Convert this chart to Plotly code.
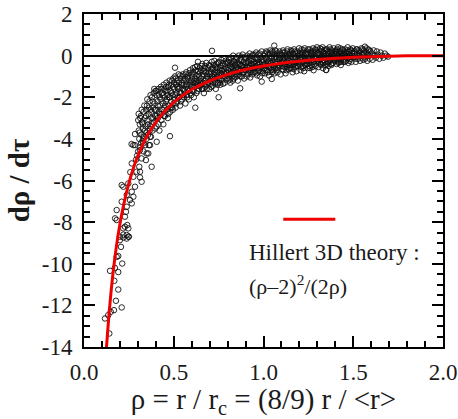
import plotly.graph_objects as go

obs_steep = [
    (0.141, -13.35), (0.117, -12.63), (0.135, -12.47), (0.149, -12.31), (0.167, -12.23),
    (0.210, -12.10), (0.178, -11.78), (0.191, -11.24), (0.169, -10.82), (0.145, -10.34),
    (0.172, -10.20), (0.191, -10.40), (0.213, -9.99), (0.182, -9.67), (0.191, -9.63),
    (0.206, -9.19), (0.200, -8.70), (0.219, -8.74), (0.238, -8.79), (0.250, -8.70),
    (0.247, -8.70), (0.219, -8.60), (0.200, -8.87), (0.228, -8.22), (0.247, -8.30),
    (0.238, -8.62), (0.219, -8.30), (0.241, -8.14), (0.182, -7.90), (0.173, -7.82),
    (0.228, -7.74), (0.182, -7.42), (0.234, -7.50), (0.238, -7.26), (0.266, -7.10),
    (0.210, -7.02), (0.256, -6.94), (0.275, -6.78), (0.238, -6.70), (0.266, -6.54),
    (0.219, -6.30), (0.284, -6.30), (0.210, -6.22), (0.247, -6.14), (0.321, -6.06),
    (0.275, -5.82), (0.312, -5.85), (0.293, -5.58), (0.312, -5.58), (0.308, -5.34),
    (0.377, -5.34), (0.266, -5.18), (0.345, -5.02), (0.321, -4.94), (0.349, -4.70),
    (0.358, -4.70), (0.312, -4.54), (0.330, -4.22), (0.284, -4.30), (0.275, -4.30),
    (0.368, -4.30), (0.284, -3.77), (0.330, -3.98), (0.368, -3.90), (0.405, -4.14),
    (0.479, -3.87), (0.265, -4.25), (0.296, -4.80), (0.258, -5.60), (0.290, -5.00),
]

obs_band_low = [
    (0.302, -3.1), (0.305, -3.6), (0.308, -4.0), (0.311, -3.3), (0.314, -4.4), (0.317, -2.9),
    (0.320, -3.8), (0.323, -3.2), (0.326, -4.1), (0.329, -3.5), (0.332, -2.7), (0.335, -3.9),
    (0.338, -3.0), (0.341, -4.3), (0.344, -3.4), (0.347, -2.6), (0.349, -3.7),
    (0.351, -2.4), (0.354, -3.1), (0.357, -3.8), (0.360, -2.8), (0.362, -4.3), (0.365, -2.2),
    (0.368, -3.4), (0.371, -2.6), (0.373, -3.9), (0.376, -3.0), (0.379, -2.0), (0.382, -3.6),
    (0.385, -2.5), (0.388, -1.8), (0.390, -3.2), (0.393, -2.3), (0.396, -2.9), (0.398, -1.7),
    (0.401, -2.6), (0.404, -3.4), (0.406, -1.9), (0.409, -2.2), (0.412, -3.0), (0.414, -1.6),
    (0.417, -2.7), (0.420, -3.6), (0.422, -2.0), (0.425, -2.4), (0.428, -1.5), (0.431, -3.1),
    (0.433, -2.8), (0.436, -1.8), (0.439, -2.3), (0.442, -3.3), (0.444, -1.4), (0.447, -2.5),
    (0.449, -2.0),
    (0.451, -2.9), (0.453, -1.7), (0.456, -2.2), (0.459, -1.3), (0.461, -2.6), (0.464, -1.9),
    (0.467, -3.0), (0.469, -1.5), (0.472, -2.4), (0.475, -2.0), (0.477, -1.2), (0.480, -2.7),
    (0.483, -1.7), (0.486, -2.2), (0.488, -1.4), (0.491, -2.5), (0.494, -1.9), (0.497, -1.1),
    (0.499, -2.3),
    (0.502, -1.6), (0.505, -2.1), (0.507, -1.0), (0.510, -2.5), (0.513, -1.4), (0.516, -1.8),
    (0.518, -2.2), (0.521, -1.2), (0.524, -1.6), (0.527, -0.9), (0.530, -2.0), (0.532, -1.5),
    (0.535, -2.4), (0.538, -1.1), (0.541, -1.8), (0.543, -1.3), (0.546, -2.1), (0.549, -1.6),
    (0.551, -0.9), (0.554, -1.4), (0.557, -2.0), (0.559, -1.7), (0.562, -1.1), (0.565, -2.3),
    (0.568, -1.5), (0.570, -0.8), (0.573, -1.9), (0.576, -1.2), (0.579, -1.6), (0.581, -1.0),
    (0.584, -2.1), (0.587, -1.4), (0.590, -0.7), (0.592, -1.8), (0.595, -1.2), (0.598, -1.5),
]

obs_band_mid = [
    (0.601, -1.0), (0.604, -1.7), (0.607, -0.6), (0.609, -1.3), (0.612, -2.0), (0.615, -0.9),
    (0.618, -1.5), (0.620, -1.1), (0.623, -0.7), (0.626, -1.8), (0.629, -1.2), (0.631, -0.5),
    (0.634, -1.4), (0.637, -0.9), (0.640, -1.6), (0.642, -1.0), (0.645, -0.6), (0.648, -1.3),
    (0.651, -1.1), (0.654, -0.7), (0.657, -1.6), (0.659, -0.4), (0.662, -1.3), (0.665, -0.9),
    (0.668, -1.8), (0.670, -0.6), (0.673, -1.2), (0.676, -1.5), (0.679, -0.8), (0.681, -0.35),
    (0.684, -1.0), (0.687, -1.4), (0.690, -0.6), (0.692, -1.1), (0.695, -0.8), (0.698, -1.6),
    (0.701, -0.5), (0.704, -1.2), (0.707, -0.8), (0.709, -1.5), (0.712, -0.3), (0.715, -1.0),
    (0.718, -0.6), (0.720, -1.3), (0.723, -0.9), (0.726, -0.25), (0.729, -1.1), (0.731, -0.7),
    (0.734, -1.6), (0.737, -0.4), (0.740, -1.0), (0.742, -0.6), (0.745, -1.3), (0.748, -0.8),
    (0.751, -0.3), (0.754, -1.1), (0.757, -0.6), (0.759, -1.4), (0.762, -0.9), (0.765, -0.2),
    (0.768, -0.7), (0.770, -1.2), (0.773, -0.5), (0.776, -1.0), (0.779, -0.15), (0.781, -0.8),
    (0.784, -1.3), (0.787, -0.4), (0.790, -0.9), (0.792, -0.6), (0.795, -1.1), (0.798, -0.3),
    (0.801, -0.7), (0.804, -1.2), (0.807, -0.2), (0.809, -0.9), (0.812, -0.5), (0.815, -1.3),
    (0.818, -0.1), (0.820, -0.8), (0.823, -0.4), (0.826, -1.0), (0.829, -0.6), (0.831, 0.0),
    (0.834, -1.1), (0.837, -0.3), (0.840, -0.7), (0.842, -0.9), (0.845, -0.45), (0.848, -0.15),
    (0.851, -0.8), (0.854, -0.3), (0.857, -1.2), (0.859, -0.6), (0.862, 0.0), (0.865, -0.9),
    (0.868, -0.4), (0.870, -1.57), (0.873, -0.7), (0.876, -0.2), (0.879, -1.0), (0.881, -0.5),
    (0.884, 0.05), (0.887, -0.8), (0.890, -0.3), (0.892, -1.1), (0.895, -0.55), (0.898, -0.1),
    (0.901, -0.7), (0.904, -0.35), (0.907, -1.0), (0.909, 0.0), (0.912, -0.5), (0.915, -0.85),
    (0.918, -0.2), (0.920, -0.6), (0.923, 0.1), (0.926, -1.05), (0.929, -0.4), (0.931, -0.7),
    (0.934, -0.15), (0.937, -0.9), (0.940, -0.45), (0.942, 0.05), (0.945, -0.6), (0.948, -0.3),
    (0.951, -0.8), (0.954, -0.1), (0.957, -0.5), (0.959, 0.15), (0.962, -0.35), (0.965, -0.95),
    (0.968, -0.6), (0.970, -0.2), (0.973, 0.05), (0.976, -0.7), (0.979, -0.4), (0.981, -1.0),
    (0.984, -0.1), (0.987, -0.55), (0.990, 0.2), (0.992, -0.3), (0.995, -0.75), (0.998, -0.45),
]

obs_band_high = [
    (1.001, -0.2), (1.004, -0.6), (1.007, 0.1), (1.009, -0.85), (1.012, -0.4), (1.015, 0.2),
    (1.018, -0.1), (1.020, -0.7), (1.023, -0.3), (1.026, 0.05), (1.029, -0.5), (1.031, -0.95),
    (1.034, -0.15), (1.037, 0.25), (1.040, -0.6), (1.042, -0.35), (1.045, -0.05), (1.048, -0.8),
    (1.051, -0.25), (1.054, 0.15), (1.057, -0.55), (1.059, -0.1), (1.062, -0.85), (1.065, 0.25),
    (1.068, -0.4), (1.070, -0.05), (1.073, -0.7), (1.076, 0.1), (1.079, -0.3), (1.081, -0.6),
    (1.084, 0.0), (1.087, -0.45), (1.090, 0.2), (1.092, -0.15), (1.095, -0.9), (1.098, -0.35),
    (1.101, 0.05), (1.104, -0.5), (1.107, -0.2), (1.109, 0.25), (1.112, -0.7), (1.115, -0.1),
    (1.118, -0.4), (1.120, 0.15), (1.123, -0.85), (1.126, -0.3), (1.129, 0.0), (1.131, -0.55),
    (1.134, 0.3), (1.137, -0.15), (1.140, -0.65), (1.142, -0.25), (1.145, 0.1), (1.148, -0.45),
    (1.151, -0.05), (1.154, -0.6), (1.157, 0.2), (1.159, -0.3), (1.162, -0.8), (1.165, 0.05),
    (1.168, -0.45), (1.170, 0.3), (1.173, -0.15), (1.176, -0.55), (1.179, 0.1), (1.181, -0.35),
    (1.184, -0.75), (1.187, 0.2), (1.190, -0.2), (1.192, -0.5), (1.195, 0.0), (1.198, 0.35),
    (1.201, -0.4), (1.204, 0.1), (1.207, -0.7), (1.209, -0.2), (1.212, 0.3), (1.215, -0.05),
    (1.218, -0.5), (1.220, 0.15), (1.223, -0.3), (1.226, -0.75), (1.229, 0.35), (1.231, -0.1),
    (1.234, -0.45), (1.237, 0.05), (1.240, -0.25), (1.242, 0.2), (1.245, -0.6), (1.248, -0.15),
    (1.251, 0.1), (1.254, -0.35), (1.257, 0.3), (1.259, -0.6), (1.262, -0.1), (1.265, 0.2),
    (1.268, -0.45), (1.270, 0.0), (1.273, -0.2), (1.276, 0.35), (1.279, -0.7), (1.281, -0.3),
    (1.284, 0.1), (1.287, -0.05), (1.290, -0.5), (1.292, 0.25), (1.295, -0.15), (1.298, 0.4),
    (1.301, -0.25), (1.304, 0.15), (1.307, -0.55), (1.309, 0.05), (1.312, -0.1), (1.315, 0.35),
    (1.318, -0.4), (1.320, -0.05), (1.323, 0.2), (1.326, -0.3), (1.329, 0.4), (1.331, -0.6),
    (1.334, 0.0), (1.337, -0.2), (1.340, 0.25), (1.342, -0.45), (1.345, 0.1), (1.348, -0.69),
    (1.351, 0.0), (1.354, 0.3), (1.357, -0.3), (1.359, 0.1), (1.362, -0.5), (1.365, -0.1),
    (1.368, 0.4), (1.370, -0.2), (1.373, 0.15), (1.376, -0.4), (1.379, 0.05), (1.381, 0.25),
    (1.384, -0.15), (1.387, -0.35), (1.390, 0.35), (1.392, 0.0), (1.395, -0.25), (1.398, 0.2),
    (1.401, -0.1), (1.404, 0.25), (1.407, -0.4), (1.409, 0.1), (1.412, -0.2), (1.415, 0.4),
    (1.418, 0.0), (1.420, -0.3), (1.423, 0.2), (1.426, -0.05), (1.429, 0.35), (1.431, -0.45),
    (1.434, 0.1), (1.437, -0.15), (1.440, 0.3), (1.442, 0.0), (1.445, -0.3), (1.448, 0.15),
    (1.451, 0.0), (1.455, 0.3), (1.459, -0.25), (1.462, 0.1), (1.466, -0.1), (1.469, 0.4),
    (1.473, -0.35), (1.476, 0.2), (1.480, 0.0), (1.483, -0.15), (1.487, 0.25), (1.490, -0.3),
    (1.494, 0.1), (1.497, 0.35),
    (1.502, -0.1), (1.506, 0.2), (1.510, 0.0), (1.514, -0.3), (1.518, 0.3), (1.522, 0.1),
    (1.526, -0.15), (1.530, 0.25), (1.534, 0.0), (1.538, -0.25), (1.542, 0.15), (1.546, 0.35),
    (1.552, 0.05), (1.556, -0.2), (1.560, 0.25), (1.565, 0.43), (1.569, -0.05), (1.574, 0.15),
    (1.578, -0.25), (1.583, 0.3), (1.587, 0.0), (1.592, -0.15), (1.596, 0.2),
    (1.603, 0.1), (1.608, -0.2), (1.614, 0.25), (1.620, 0.0), (1.626, -0.1), (1.632, 0.2),
    (1.638, 0.05), (1.645, -0.15), (1.652, 0.15), (1.660, 0.0), (1.668, -0.1), (1.676, 0.1),
    (1.685, 0.0), (1.694, -0.05),
]

obs_band_extra = [
    (0.3015, -4.6), (0.3045, -2.8), (0.3095, -3.7), (0.3135, -3.0), (0.3185, -4.2), (0.3215, -2.6),
    (0.3275, -3.3), (0.3305, -4.6), (0.3365, -2.4), (0.3395, -3.6), (0.3455, -2.9), (0.3485, -4.0),
    (0.3525, -2.1), (0.3565, -3.3), (0.3615, -2.5), (0.3665, -3.6), (0.3705, -1.9), (0.3745, -2.7),
    (0.3785, -3.3), (0.3835, -2.2), (0.3865, -3.0), (0.3915, -1.6), (0.3945, -2.6), (0.3975, -3.5),
    (0.4025, -1.7), (0.4055, -2.9), (0.4105, -2.4), (0.4155, -3.3), (0.4185, -1.9), (0.4235, -2.8),
    (0.4265, -2.1), (0.4325, -1.6), (0.4355, -2.6), (0.4405, -1.9), (0.4455, -2.9), (0.4485, -1.6),
    (0.4525, -2.4), (0.4575, -1.5), (0.4625, -2.1), (0.4655, -1.7), (0.4705, -2.8), (0.4735, -1.4),
    (0.4785, -2.0), (0.4815, -2.5), (0.4875, -1.8), (0.4905, -1.2), (0.4955, -2.6), (0.4985, -1.5),
    (0.5035, -1.3), (0.5085, -1.9), (0.5115, -1.1), (0.5145, -2.3), (0.5195, -1.5), (0.5225, -2.0),
    (0.5285, -1.3), (0.5335, -1.8), (0.5365, -0.95), (0.5395, -2.2), (0.5445, -1.4), (0.5475, -1.0),
    (0.5525, -1.9), (0.5565, -1.2), (0.5605, -1.6), (0.5665, -0.9), (0.5715, -1.4), (0.5755, -2.0),
    (0.5785, -1.1), (0.5835, -1.7), (0.5865, -0.85), (0.5915, -1.3), (0.5965, -1.9), (0.5995, -0.9),
    (0.6025, -1.4), (0.6055, -0.8), (0.6105, -1.7), (0.6145, -1.2), (0.6195, -0.55), (0.6245, -1.3),
    (0.6275, -1.0), (0.6325, -1.7), (0.6355, -0.75), (0.6385, -1.2), (0.6435, -1.45), (0.6475, -0.8),
    (0.6525, -1.4), (0.6555, -0.5), (0.6605, -1.0), (0.6635, -1.6), (0.6675, -0.75), (0.6725, -1.35),
    (0.6755, -0.5), (0.6785, -1.1), (0.6835, -1.6), (0.6865, -0.9), (0.6915, -1.3), (0.6965, -0.45),
    (0.7025, -0.9), (0.7065, -1.35), (0.7105, -0.65), (0.7135, -1.1), (0.7175, -1.45), (0.7215, -0.45),
    (0.7245, -1.15), (0.7285, -0.8), (0.7325, -1.3), (0.7355, -0.55), (0.7395, -0.85), (0.7435, -1.4),
    (0.7475, -0.35), (0.7525, -0.95), (0.7555, -1.3), (0.7605, -0.5), (0.7635, -1.15), (0.7675, -0.85),
    (0.7725, -0.35), (0.7745, -1.35), (0.7785, -0.65), (0.7835, -1.0), (0.7885, -0.25), (0.7935, -0.8),
    (0.8025, -0.35), (0.8055, -1.0), (0.8105, -0.6), (0.8135, -1.15), (0.8175, -0.3), (0.8215, -0.9),
    (0.8245, -0.55), (0.8285, -1.2), (0.8325, -0.25), (0.8355, -0.75), (0.8395, -0.45), (0.8435, -1.05),
    (0.8475, -0.6), (0.8525, -0.1), (0.8555, -0.95), (0.8605, -0.45), (0.8635, -0.75), (0.8675, -0.2),
    (0.8725, -1.0), (0.8745, -0.5), (0.8785, -0.05), (0.8835, -0.85), (0.8885, -0.45), (0.8935, -0.7),
    (0.9025, -0.15), (0.9055, -0.55), (0.9105, -0.9), (0.9135, -0.3), (0.9175, -0.7), (0.9215, -0.05),
    (0.9245, -0.5), (0.9285, -0.8), (0.9325, -0.25), (0.9355, -0.6), (0.9395, 0.0), (0.9435, -0.8),
    (0.9475, -0.4), (0.9525, -0.6), (0.9555, 0.05), (0.9605, -0.85), (0.9635, -0.15), (0.9675, -0.45),
    (0.9725, -0.75), (0.9745, -0.3), (0.9785, 0.1), (0.9835, -0.6), (0.9885, -0.2), (0.9935, -0.85),
    (1.0025, 0.0), (1.0055, -0.45), (1.0105, -0.7), (1.0135, -0.15), (1.0175, -0.5), (1.0215, 0.15),
    (1.0245, -0.8), (1.0285, -0.25), (1.0325, -0.55), (1.0355, 0.1), (1.0395, -0.35), (1.0435, -0.7),
    (1.0475, 0.2), (1.0525, -0.45), (1.0555, -0.7), (1.0605, 0.05), (1.0635, -0.3), (1.0675, -0.6),
    (1.0725, 0.2), (1.0745, -0.15), (1.0785, -0.8), (1.0835, -0.5), (1.0885, -0.2), (1.0935, 0.1),
    (1.1025, -0.3), (1.1055, -0.65), (1.1105, 0.15), (1.1135, -0.25), (1.1175, -0.55), (1.1215, 0.0),
    (1.1245, -0.4), (1.1285, -0.7), (1.1325, 0.2), (1.1355, -0.1), (1.1395, -0.45), (1.1435, 0.05),
    (1.1475, -0.6), (1.1525, 0.25), (1.1555, -0.2), (1.1605, -0.45), (1.1635, 0.1), (1.1675, -0.65),
    (1.1725, -0.3), (1.1745, 0.2), (1.1785, -0.05), (1.1835, -0.5), (1.1885, 0.0), (1.1935, -0.3),
    (1.2025, -0.15), (1.2055, 0.2), (1.2105, -0.55), (1.2135, 0.05), (1.2175, -0.3), (1.2215, -0.6),
    (1.2245, 0.25), (1.2285, -0.2), (1.2325, -0.45), (1.2355, 0.1), (1.2395, -0.1), (1.2435, -0.4),
    (1.2475, 0.3), (1.2525, -0.2), (1.2555, -0.5), (1.2605, 0.15), (1.2635, -0.3), (1.2675, 0.05),
    (1.2725, -0.55), (1.2745, 0.2), (1.2785, -0.1), (1.2835, -0.4), (1.2885, 0.3), (1.2935, -0.25),
    (1.3025, 0.1), (1.3055, -0.35), (1.3105, 0.25), (1.3135, -0.2), (1.3175, 0.05), (1.3215, -0.45),
    (1.3245, 0.3), (1.3285, -0.1), (1.3325, -0.35), (1.3355, 0.15), (1.3395, -0.05), (1.3435, -0.3),
    (1.3475, 0.3), (1.3525, -0.15), (1.3555, -0.4), (1.3605, 0.2), (1.3635, 0.0), (1.3675, -0.3),
    (1.3725, 0.3), (1.3745, -0.05), (1.3785, -0.45), (1.3835, 0.15), (1.3885, -0.2), (1.3935, 0.1),
    (1.4025, 0.15), (1.4055, -0.25), (1.4105, 0.3), (1.4135, -0.05), (1.4175, -0.35), (1.4215, 0.1),
    (1.4245, -0.15), (1.4285, 0.2), (1.4325, -0.3), (1.4355, 0.0), (1.4395, 0.25), (1.4435, -0.2),
    (1.4475, 0.05), (1.4525, -0.3), (1.4575, 0.15), (1.4625, -0.05), (1.4675, 0.25), (1.4725, 0.05),
    (1.4785, -0.25), (1.4835, 0.3), (1.4885, -0.05), (1.4935, 0.2),
    (1.5045, 0.1), (1.5125, -0.15), (1.5205, 0.3), (1.5285, 0.0), (1.5365, 0.2), (1.5445, -0.1),
    (1.5505, 0.3), (1.5585, 0.1), (1.5665, -0.15), (1.5745, 0.35), (1.5825, 0.05), (1.5905, 0.25),
]

obs_outliers = [
    (0.507, -0.58), (0.713, 0.23), (0.635, -0.30), (0.750, -2.00), (0.620, -2.50),
    (1.060, 0.48), (1.046, -1.12), (0.990, -1.25), (1.350, -0.69),
]

# ---- Hillert 3D theory curve ----
theory_rho = [0.125, 0.13, 0.14, 0.15, 0.16, 0.18, 0.20, 0.22, 0.25, 0.28, 0.30, 0.35,
              0.40, 0.45, 0.50, 0.55, 0.60, 0.70, 0.80, 0.90, 1.00, 1.10, 1.20, 1.30,
              1.40, 1.50, 1.60, 1.70, 1.80, 1.90, 2.00]
theory_rate = [-14.06, -13.45, -12.36, -11.41, -10.58, -9.20, -8.10, -7.20, -6.13, -5.28,
               -4.82, -3.89, -3.20, -2.67, -2.25, -1.91, -1.63, -1.21, -0.90, -0.67, -0.50,
               -0.37, -0.27, -0.19, -0.13, -0.083, -0.05, -0.026, -0.011, -0.003, 0.0]

x_ticks = [0.0, 0.5, 1.0, 1.5, 2.0]
x_tick_labels = ["0.0", "0.5", "1.0", "1.5", "2.0"]
y_ticks = [2, 0, -2, -4, -6, -8, -10, -12, -14]
y_tick_labels = ["2", "0", "-2", "-4", "-6", "-8", "-10", "-12", "-14"]

all_obs = obs_steep + obs_band_low + obs_band_mid + obs_band_high + obs_band_extra + obs_outliers
obs_rho = [p[0] for p in all_obs]
obs_rate = [p[1] for p in all_obs]

SERIF = "Liberation Serif"
INK = "#1a1a1a"

fig = go.Figure()
fig.add_trace(go.Scatter(
    x=obs_rho, y=obs_rate, mode="markers",
    marker=dict(symbol="circle-open", size=5.5, color="#111111", line=dict(width=0.9)),
    showlegend=False, hoverinfo="skip",
))
fig.add_trace(go.Scatter(
    x=theory_rho, y=theory_rate, mode="lines",
    line=dict(color="#ee0000", width=3, shape="spline"),
    showlegend=False, hoverinfo="skip",
))
# invisible trace that carries the mirrored (top / right) tick axes
fig.add_trace(go.Scatter(
    x=[theory_rho[-1]], y=[theory_rate[-1]], xaxis="x2", yaxis="y2", mode="markers",
    marker=dict(opacity=0), showlegend=False, hoverinfo="skip",
))

tick_common = dict(
    ticks="inside", tickcolor="black", tickwidth=2, ticklen=11,
    showgrid=False, automargin=False,
)
minor_x = dict(dtick=0.1, ticks="inside", ticklen=6, tickwidth=2, tickcolor="black", showgrid=False)
minor_y = dict(dtick=0.5, ticks="inside", ticklen=6, tickwidth=2, tickcolor="black", showgrid=False)

fig.update_layout(
    xaxis=dict(
        range=[0, 2.0], tickmode="array", tickvals=x_ticks, ticktext=x_tick_labels,
        showline=True, linecolor="black", linewidth=2, mirror=True,
        minor=minor_x, zeroline=False, ticklabelstandoff=3,
        tickfont=dict(family=SERIF, size=23, color=INK),
        title=dict(text="ρ = r / r<sub>c</sub> = (8/9) r / &lt;r&gt;",
                   font=dict(family=SERIF, size=29, color=INK), standoff=4),
        **tick_common,
    ),
    yaxis=dict(
        range=[-14, 2], tickmode="array", tickvals=y_ticks, ticktext=y_tick_labels,
        showline=True, linecolor="black", linewidth=2, mirror=True,
        minor=minor_y,
        zeroline=True, zerolinecolor="black", zerolinewidth=1.5,
        ticklabelstandoff=5,
        tickfont=dict(family=SERIF, size=23, color=INK),
        title=dict(text="<b>dρ / dτ</b>", font=dict(family=SERIF, size=29, color=INK), standoff=4),
        **tick_common,
    ),
    xaxis2=dict(
        range=[0, 2.0], overlaying="x", side="top", tickmode="array", tickvals=x_ticks,
        showticklabels=False, minor=minor_x, zeroline=False, showline=False, **tick_common,
    ),
    yaxis2=dict(
        range=[-14, 2], overlaying="y", side="right", tickmode="array", tickvals=y_ticks,
        showticklabels=False, minor=minor_y, zeroline=False, showline=False, **tick_common,
    ),
)

# legend-like key drawn inside the plot
fig.add_shape(type="line", xref="x", yref="y", x0=1.11, x1=1.40, y0=-7.86, y1=-7.86,
              line=dict(color="#ee0000", width=3))
fig.add_annotation(x=0.454, y=0.285, xref="paper", yref="paper", xanchor="left", yanchor="middle",
                   text="Hillert 3D theory :", showarrow=False,
                   font=dict(family=SERIF, size=23, color=INK))
fig.add_annotation(x=0.454, y=0.186, xref="paper", yref="paper", xanchor="left", yanchor="middle",
                   text="(ρ–2)<sup>2</sup>/(2ρ)", showarrow=False,
                   font=dict(family=SERIF, size=22, color=INK))

fig.update_layout(
    width=458, height=419,
    margin=dict(l=84, r=15, t=14, b=72),
    plot_bgcolor="white", paper_bgcolor="white",
)

fig.write_html("out.html")
